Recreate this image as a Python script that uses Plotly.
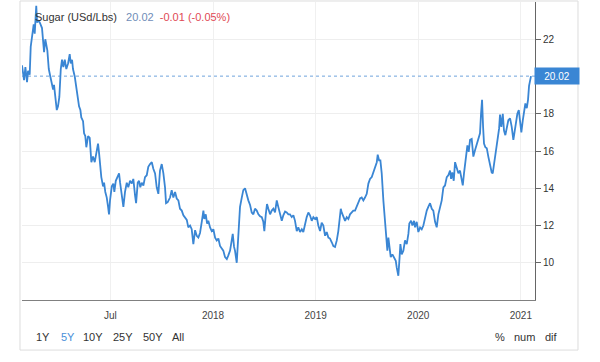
import plotly.graph_objects as go

# Time in decimal years, price in US cents per lb
years = [
    2016.138, 2016.158, 2016.171, 2016.187, 2016.197, 2016.213, 2016.223, 2016.236, 2016.252, 2016.262,
    2016.270, 2016.277, 2016.285, 2016.294, 2016.311, 2016.333, 2016.353, 2016.365, 2016.385, 2016.399,
    2016.414, 2016.424, 2016.441, 2016.450, 2016.463, 2016.477, 2016.489, 2016.502, 2016.516, 2016.528,
    2016.541, 2016.555, 2016.570, 2016.587, 2016.603, 2016.613, 2016.626, 2016.635, 2016.652, 2016.668,
    2016.684, 2016.694, 2016.707, 2016.716, 2016.733, 2016.743, 2016.755, 2016.765, 2016.782, 2016.798,
    2016.814, 2016.830, 2016.847, 2016.863, 2016.879, 2016.889, 2016.902, 2016.911, 2016.928, 2016.938,
    2016.950, 2016.964, 2016.977, 2016.986, 2016.996, 2017.013, 2017.028, 2017.038, 2017.052, 2017.071,
    2017.084, 2017.094, 2017.110, 2017.126, 2017.142, 2017.159, 2017.174, 2017.191, 2017.208, 2017.223,
    2017.240, 2017.250, 2017.266, 2017.279, 2017.291, 2017.305, 2017.321, 2017.337, 2017.354, 2017.369,
    2017.386, 2017.403, 2017.418, 2017.435, 2017.451, 2017.467, 2017.483, 2017.500, 2017.516, 2017.532,
    2017.542, 2017.558, 2017.581, 2017.597, 2017.613, 2017.630, 2017.646, 2017.662, 2017.678, 2017.695,
    2017.711, 2017.727, 2017.744, 2017.759, 2017.776, 2017.792, 2017.808, 2017.825, 2017.841, 2017.857,
    2017.873, 2017.890, 2017.906, 2017.915, 2017.929, 2017.942, 2017.954, 2017.971, 2017.987, 2018.003,
    2018.020, 2018.036, 2018.052, 2018.068, 2018.085, 2018.100, 2018.117, 2018.134, 2018.149, 2018.166,
    2018.182, 2018.192, 2018.205, 2018.214, 2018.231, 2018.241, 2018.253, 2018.263, 2018.280, 2018.295,
    2018.312, 2018.328, 2018.344, 2018.361, 2018.377, 2018.393, 2018.409, 2018.426, 2018.442, 2018.458,
    2018.475, 2018.490, 2018.500, 2018.514, 2018.526, 2018.539, 2018.556, 2018.572, 2018.588, 2018.604,
    2018.621, 2018.636, 2018.653, 2018.670, 2018.685, 2018.702, 2018.718, 2018.734, 2018.750, 2018.767,
    2018.783, 2018.799, 2018.816, 2018.831, 2018.848, 2018.865, 2018.880, 2018.897, 2018.913, 2018.929,
    2018.945, 2018.962, 2018.978, 2018.994, 2019.011, 2019.026, 2019.043, 2019.059, 2019.075, 2019.092,
    2019.108, 2019.124, 2019.140, 2019.157, 2019.173, 2019.189, 2019.206, 2019.221, 2019.231, 2019.245,
    2019.254, 2019.270, 2019.287, 2019.303, 2019.319, 2019.335, 2019.352, 2019.367, 2019.384, 2019.401,
    2019.416, 2019.433, 2019.449, 2019.465, 2019.481, 2019.498, 2019.514, 2019.530, 2019.547, 2019.562,
    2019.579, 2019.596, 2019.605, 2019.618, 2019.631, 2019.644, 2019.660, 2019.676, 2019.686, 2019.699,
    2019.709, 2019.718, 2019.732, 2019.748, 2019.764, 2019.781, 2019.790, 2019.806, 2019.816, 2019.826,
    2019.839, 2019.855, 2019.871, 2019.888, 2019.904, 2019.913, 2019.930, 2019.943, 2019.959, 2019.969,
    2019.985, 2020.001, 2020.018, 2020.034, 2020.050, 2020.066, 2020.083, 2020.098, 2020.115, 2020.132,
    2020.147, 2020.164, 2020.180, 2020.196, 2020.212, 2020.229, 2020.245, 2020.261, 2020.278, 2020.293,
    2020.310, 2020.320, 2020.332, 2020.346, 2020.359, 2020.375, 2020.391, 2020.407, 2020.424, 2020.434,
    2020.446, 2020.466, 2020.479, 2020.492, 2020.505, 2020.521, 2020.537, 2020.554, 2020.570, 2020.586,
    2020.602, 2020.612, 2020.622, 2020.632, 2020.641, 2020.654, 2020.668, 2020.683, 2020.700, 2020.716,
    2020.726, 2020.739, 2020.755, 2020.771, 2020.788, 2020.797, 2020.810, 2020.824, 2020.836, 2020.849,
    2020.863, 2020.878, 2020.895, 2020.911, 2020.927, 2020.941, 2020.953, 2020.966, 2020.980, 2020.992,
    2021.005, 2021.019, 2021.031, 2021.044, 2021.058, 2021.070, 2021.080, 2021.090, 2021.099,
]

prices = [
    20.6, 19.8, 20.5, 19.7, 20.3, 20.1, 21.6, 22.3, 22.8, 22.3,
    23.0, 23.8, 22.9, 23.0, 22.9, 22.6, 21.3, 22.0, 21.4, 20.4,
    20.0, 19.65, 19.3, 19.55, 18.9, 18.2, 18.4, 18.9, 20.4, 20.9,
    20.5, 20.9, 20.4, 20.7, 21.2, 20.7, 20.9, 20.4, 20.0, 19.3,
    18.9, 18.4, 18.2, 17.8, 17.6, 16.95, 16.8, 16.2, 16.8, 16.7,
    15.4, 15.7, 15.4, 16.0, 16.4, 15.9, 15.1, 14.6, 14.1, 14.3,
    13.8, 13.5, 13.0, 12.6, 13.35, 14.1, 14.25, 13.8, 14.4, 14.6,
    14.8, 14.3, 13.7, 13.0, 13.8, 14.3, 14.05, 14.4, 14.25, 14.5,
    13.6, 13.2, 14.3, 14.4, 14.05, 14.3, 14.15, 14.6, 14.7, 15.15,
    15.3, 15.4, 15.05, 14.8, 14.05, 13.7, 14.95, 15.3, 14.8, 14.05,
    13.2, 13.25, 13.5, 13.9, 13.5, 13.8, 13.45, 13.35, 12.9, 12.8,
    12.55, 12.45, 12.3, 11.9, 12.0, 11.8, 11.0, 11.75, 11.45, 11.35,
    11.6, 12.2, 12.8, 12.35, 12.6, 12.1, 12.25, 11.9, 11.7, 11.8,
    11.35, 11.2, 11.3, 10.9, 10.75, 10.65, 10.3, 10.2, 10.4, 10.65,
    11.2, 11.55, 10.85, 10.65, 10.0, 11.2, 12.45, 13.0, 13.5, 13.9,
    14.0, 13.6, 13.35, 13.1, 12.7, 12.6, 12.9, 12.8, 12.6, 12.5,
    12.45, 12.2, 11.7, 12.6, 13.15, 12.9, 12.6, 12.8, 12.9, 12.7,
    13.35, 13.0, 12.55, 12.25, 12.55, 12.75, 12.7, 12.6, 12.6, 12.45,
    12.55, 12.25, 11.7, 11.9, 11.65, 11.8, 11.65, 12.1, 12.45, 12.7,
    12.55, 12.25, 12.45, 12.35, 12.45, 12.0, 11.7, 12.15, 12.0, 11.45,
    11.65, 11.35, 11.3, 11.1, 10.9, 10.85, 11.2, 11.7, 12.25, 12.9,
    12.7, 12.45, 12.25, 12.45, 12.35, 12.6, 12.7, 12.8, 12.8, 13.0,
    13.25, 13.45, 13.5, 13.35, 13.5, 13.7, 14.25, 14.5, 14.6, 14.85,
    15.1, 15.4, 15.8, 15.5, 15.5, 14.8, 13.35, 12.25, 11.55, 10.65,
    11.35, 11.0, 10.3, 10.45, 10.3, 10.1, 9.75, 9.3, 10.1, 11.0,
    10.45, 10.65, 11.2, 11.0, 11.55, 12.1, 12.25, 12.0, 12.25, 11.9,
    12.2, 11.65, 11.9, 11.8, 12.0, 12.45, 12.8, 13.0, 13.2, 12.9,
    12.8, 12.2, 11.9, 12.6, 12.9, 13.35, 14.05, 14.15, 14.6, 14.7,
    14.95, 14.5, 14.85, 14.4, 15.4, 15.15, 14.8, 14.95, 14.5, 14.15,
    14.8, 15.7, 16.3, 15.95, 16.6, 16.65, 15.7, 16.05, 16.4, 16.6,
    16.95, 18.0, 18.75, 17.3, 16.4, 16.2, 16.15, 15.7, 15.3, 14.85,
    14.8, 15.3, 15.85, 16.65, 17.2, 17.95, 17.3, 18.0, 17.1, 16.85,
    17.2, 17.65, 17.75, 17.3, 16.6, 17.1, 17.4, 18.0, 18.2, 17.75,
    17.0, 17.65, 18.2, 18.55, 18.3, 18.75, 19.5, 19.8, 20.02,
]

x_range = [2016.138, 2021.138]
x_tick_vals = [2017, 2018, 2019, 2020, 2021]
x_tick_text = ["Jul", "2018", "2019", "2020", "2021"]
y_tick_vals = [10, 12, 14, 16, 18, 22]

title = "Sugar (USd/Lbs)"
last_price = prices[-1]
change_text = "-0.01 (-0.05%)"
range_buttons = ["1Y", "5Y", "10Y", "25Y", "50Y", "All"]
range_btn_x = [0.0409, 0.0897, 0.1384, 0.1969, 0.2554, 0.3041]
mode_buttons = ["%", "num", "dif"]
mode_btn_x = [0.9318, 0.9805, 1.0331]

LINE = "#3a86d4"
FONT = "Liberation Sans, Arial, sans-serif"

fig = go.Figure()

# dotted price line at last value
fig.add_trace(go.Scatter(
    x=x_range, y=[last_price, last_price], mode="lines",
    line=dict(color="#6fa3dc", width=1, dash="dot"), hoverinfo="skip",
))

fig.add_trace(go.Scatter(
    x=years, y=prices, mode="lines",
    line=dict(color=LINE, width=1.8), hoverinfo="x+y",
))

fig.update_layout(
    width=600, height=362,
    margin=dict(l=22, r=65, t=2, b=62),
    paper_bgcolor="white", plot_bgcolor="white",
    showlegend=False,
    font=dict(family=FONT, size=10, color="#333"),
    xaxis=dict(
        range=x_range, tickvals=x_tick_vals, ticktext=x_tick_text,
        showgrid=True, gridcolor="#f0f0f0", gridwidth=1,
        showline=True, linecolor="#808080", linewidth=1,
        ticks="outside", ticklen=6, tickcolor="rgba(0,0,0,0)",
        tickfont=dict(size=10, color="#444"), zeroline=False,
    ),
    yaxis=dict(
        range=[8, 24], side="right", tickvals=y_tick_vals,
        showgrid=True, gridcolor="#eeeeee", gridwidth=1,
        showline=True, linecolor="#666", linewidth=1,
        ticks="outside", ticklen=5, tickcolor="#666",
        tickfont=dict(size=10, color="#333"), zeroline=False,
    ),
)

# container border
fig.add_shape(type="rect", xref="paper", yref="paper",
              x0=-0.0039, x1=1.0838, y0=-0.168, y1=1.0034,
              line=dict(color="#dddddd", width=1), layer="below")

# title / quote
fig.add_annotation(
    xref="paper", yref="paper", x=0.0214, y=0.9497, xanchor="left", yanchor="middle",
    showarrow=False, font=dict(family=FONT, size=11, color="#333"),
    text=(f"{title}&nbsp;&nbsp;&nbsp;<span style='color:#6f8db8'>{last_price:.2f}</span>"
          f"&nbsp;&nbsp;<span style='color:#e04a55'>{change_text}</span>"),
)

# last price label box
fig.add_annotation(
    xref="paper", yref="y", x=0.998, y=last_price, xanchor="left", yanchor="middle",
    showarrow=False, text=f"{last_price:.2f}", bgcolor="#3a86d4",
    font=dict(family=FONT, size=10, color="white"),
    width=40, height=12, borderpad=2,
)

for label, px in zip(range_buttons, range_btn_x):
    fig.add_annotation(
        xref="paper", yref="paper", x=px, y=-0.124, xanchor="center", yanchor="middle",
        showarrow=False, text=label,
        font=dict(family=FONT, size=11, color="#4a90d9" if label == "5Y" else "#333"),
    )
for label, px in zip(mode_buttons, mode_btn_x):
    fig.add_annotation(
        xref="paper", yref="paper", x=px, y=-0.124, xanchor="center", yanchor="middle",
        showarrow=False, text=label, font=dict(family=FONT, size=11, color="#333"),
    )

fig.write_html("out.html", config={"displayModeBar": False},
               post_script="document.body.style.margin='0px';")
